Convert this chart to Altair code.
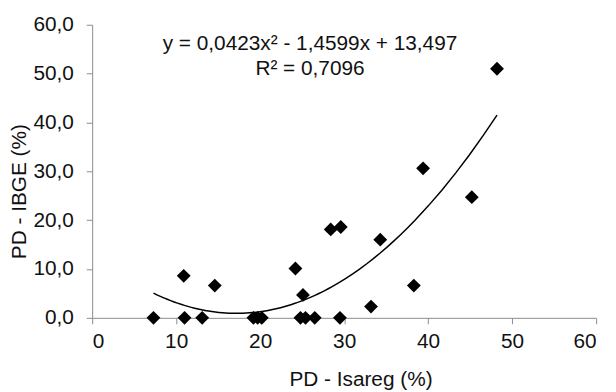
import altair as alt
import pandas as pd

# PD - Isareg (%)
isareg = [7.3, 11.0, 10.9, 13.1, 14.6, 19.2, 19.7, 20.2, 24.2, 25.1, 24.8, 25.4,
          26.5, 28.4, 29.6, 29.5, 33.2, 34.3, 38.3, 39.4, 45.2, 48.2]
# PD - IBGE (%)
ibge = [0.0, 0.0, 8.6, 0.0, 6.6, 0.0, 0.0, 0.0, 10.1, 4.7, 0.0, 0.0,
        0.0, 18.1, 18.6, 0.0, 2.3, 16.0, 6.6, 30.6, 24.7, 51.0]

equation = "y = 0,0423x² - 1,4599x + 13,497"
r2_text = "R² = 0,7096"

df = pd.DataFrame({"x": isareg, "y": ibge})

FONT = "Liberation Sans"
TXT = "#111111"
FS = 21

x_scale = alt.Scale(domain=[0, 60], nice=False, zero=False)
y_scale = alt.Scale(domain=[0, 60], nice=False, zero=False)

base = alt.Chart(df)

points = base.mark_point(shape="diamond", filled=True, size=195, color="black", opacity=1).encode(
    x=alt.X("x:Q", scale=x_scale,
            axis=alt.Axis(title="PD - Isareg (%)", values=[0, 10, 20, 30, 40, 50, 60],
                          grid=False, format="d", labelPadding=7,
                          titleX=271, titleY=68, titleBaseline="alphabetic", titleAlign="center")),
    y=alt.Y("y:Q", scale=y_scale,
            axis=alt.Axis(title="PD - IBGE (%)", values=[0, 10, 20, 30, 40, 50, 60], grid=False,
                          labelPadding=13,
                          labelExpr="replace(format(datum.value, '.1f'), '.', ',')",
                          titleX=-67, titleY=168, titleAngle=270, titleBaseline="alphabetic",
                          titleAlign="center")),
)

trend = base.transform_regression("x", "y", method="poly", order=2).mark_line(
    color="black", strokeWidth=1.5
).encode(x=alt.X("x:Q", scale=x_scale), y=alt.Y("y:Q", scale=y_scale))

eq1 = alt.Chart(pd.DataFrame({"t": [equation]})).mark_text(
    font=FONT, fontSize=FS, color=TXT, align="center", baseline="middle"
).encode(text="t:N", x=alt.value(220), y=alt.value(19))

eq2 = alt.Chart(pd.DataFrame({"t": [r2_text]})).mark_text(
    font=FONT, fontSize=FS, color=TXT, align="center", baseline="middle"
).encode(text="t:N", x=alt.value(220), y=alt.value(45))

chart = alt.layer(trend, points, eq1, eq2).properties(
    width=509, height=296,
    autosize=alt.AutoSizeParams(type="none"),
    padding={"left": 85, "top": 15, "right": 12, "bottom": 76},
).configure_view(stroke=None).configure_axis(
    domainColor="#8c8c8c", tickColor="#8c8c8c", tickSize=6, domainWidth=1, tickWidth=1,
    labelFont=FONT, labelFontSize=FS, labelColor=TXT,
    titleFont=FONT, titleFontSize=FS, titleFontWeight="normal", titleColor=TXT,
)

chart.save("out.html", embed_options={"renderer": "svg", "actions": False})
